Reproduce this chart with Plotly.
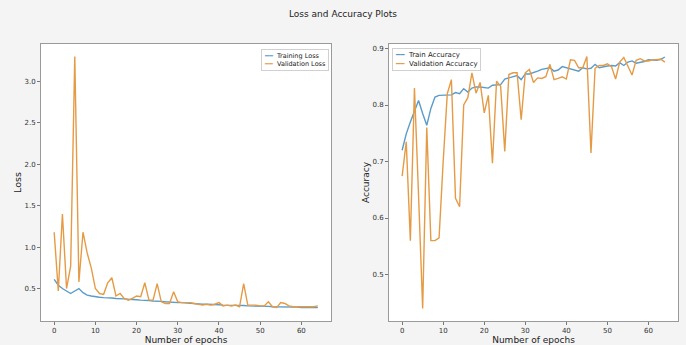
import plotly.graph_objects as go

epochs = list(range(65))

train_loss = [0.61, 0.54, 0.50, 0.47, 0.44, 0.47, 0.50, 0.45, 0.42, 0.41,
              0.40, 0.395, 0.39, 0.39, 0.385, 0.38, 0.38, 0.375, 0.37, 0.37,
              0.365, 0.36, 0.36, 0.355, 0.35, 0.35, 0.345, 0.34, 0.335, 0.335,
              0.33, 0.33, 0.325, 0.32, 0.32, 0.315, 0.31, 0.31, 0.31, 0.305,
              0.305, 0.30, 0.30, 0.30, 0.30, 0.295, 0.295, 0.29, 0.29, 0.29,
              0.285, 0.285, 0.285, 0.28, 0.28, 0.28, 0.28, 0.275, 0.275, 0.275,
              0.27, 0.27, 0.27, 0.27, 0.27]

val_loss = [1.18, 0.47, 1.40, 0.50, 0.77, 3.30, 0.58, 1.18, 0.93, 0.75,
            0.50, 0.44, 0.43, 0.57, 0.63, 0.41, 0.44, 0.38, 0.36, 0.38,
            0.41, 0.40, 0.57, 0.36, 0.36, 0.56, 0.34, 0.32, 0.32, 0.46,
            0.34, 0.33, 0.33, 0.33, 0.32, 0.31, 0.30, 0.31, 0.30, 0.31,
            0.33, 0.29, 0.30, 0.29, 0.30, 0.28, 0.56, 0.30, 0.30, 0.30,
            0.29, 0.29, 0.34, 0.28, 0.27, 0.33, 0.32, 0.29, 0.28, 0.28,
            0.28, 0.28, 0.28, 0.28, 0.29]

train_acc = [0.720, 0.749, 0.770, 0.788, 0.808, 0.785, 0.764, 0.794, 0.814, 0.817,
             0.817, 0.818, 0.818, 0.822, 0.820, 0.829, 0.823, 0.830, 0.832, 0.832,
             0.831, 0.830, 0.835, 0.836, 0.836, 0.846, 0.848, 0.850, 0.852, 0.845,
             0.855, 0.855, 0.857, 0.860, 0.863, 0.865, 0.866, 0.860, 0.862, 0.868,
             0.866, 0.863, 0.862, 0.860, 0.866, 0.864, 0.865, 0.872, 0.866, 0.868,
             0.869, 0.870, 0.869, 0.875, 0.870, 0.876, 0.878, 0.874, 0.875, 0.877,
             0.880, 0.880, 0.879, 0.881, 0.885]

val_acc = [0.674, 0.735, 0.560, 0.830, 0.640, 0.440, 0.760, 0.560, 0.560, 0.565,
           0.700, 0.820, 0.845, 0.635, 0.620, 0.800, 0.813, 0.857, 0.821, 0.840,
           0.786, 0.817, 0.697, 0.842, 0.833, 0.718, 0.854, 0.857, 0.857, 0.774,
           0.857, 0.863, 0.840, 0.848, 0.847, 0.850, 0.872, 0.845, 0.847, 0.850,
           0.846, 0.880, 0.879, 0.866, 0.866, 0.886, 0.715, 0.865, 0.870, 0.870,
           0.873, 0.868, 0.846, 0.876, 0.884, 0.868, 0.853, 0.879, 0.882, 0.878,
           0.878, 0.880, 0.880, 0.881, 0.876]

loss_ticks = [0.5, 1.0, 1.5, 2.0, 2.5, 3.0]
acc_ticks = [0.5, 0.6, 0.7, 0.8, 0.9]
epoch_ticks = [0, 10, 20, 30, 40, 50, 60]

loss_names = ["Training Loss", "Validation Loss"]
acc_names = ["Train Accuracy", "Validation Accuracy"]

BLUE = "#5b9bc8"
ORANGE = "#e59b45"
FONT = "DejaVu Sans"

fig = go.Figure()
fig.add_trace(go.Scatter(x=epochs, y=train_loss, mode="lines", name=loss_names[0],
                         line=dict(color=BLUE, width=1.4), xaxis="x", yaxis="y",
                         showlegend=False))
fig.add_trace(go.Scatter(x=epochs, y=val_loss, mode="lines", name=loss_names[1],
                         line=dict(color=ORANGE, width=1.4), xaxis="x", yaxis="y",
                         showlegend=False))
fig.add_trace(go.Scatter(x=epochs, y=train_acc, mode="lines", name=acc_names[0],
                         line=dict(color=BLUE, width=1.4), xaxis="x2", yaxis="y2",
                         showlegend=False))
fig.add_trace(go.Scatter(x=epochs, y=val_acc, mode="lines", name=acc_names[1],
                         line=dict(color=ORANGE, width=1.4), xaxis="x2", yaxis="y2",
                         showlegend=False))

axis_common = dict(showgrid=False, zeroline=False, showline=True, mirror=True,
                   linecolor="#9a9a9a", linewidth=1, ticks="outside", ticklen=3,
                   tickcolor="#777", tickfont=dict(size=7, color="#333", family=FONT))

W, H = 686, 345
ml, mr, mt, mb = 41, 8, 44, 24
pw = W - ml - mr
ph = H - mt - mb


def legend_text(names):
    return (f"<span style='color:{BLUE}'>━━</span>  {names[0]}<br>"
            f"<span style='color:{ORANGE}'>━━</span>  {names[1]}")


fig.update_layout(
    width=W, height=H,
    margin=dict(l=ml, r=mr, t=mt, b=mb),
    paper_bgcolor="#f4f4f4",
    plot_bgcolor="white",
    font=dict(family=FONT, color="#222"),
    title=dict(text="Loss and Accuracy Plots", x=0.5, xanchor="center",
               y=1 - 14 / H, yanchor="middle", font=dict(size=9, family=FONT)),
    xaxis=dict(domain=[0, (331 - ml) / pw], range=[-3.2, 67.2], tickvals=epoch_ticks,
               title=dict(text="Number of epochs", font=dict(size=9), standoff=0),
               anchor="y", automargin=False, **axis_common),
    yaxis=dict(domain=[0, 1], range=[0.108, 3.452], tickvals=loss_ticks, tickformat=".1f",
               title=dict(text="Loss", font=dict(size=9.5), standoff=1),
               anchor="x", automargin=False, **axis_common),
    xaxis2=dict(domain=[(389 - ml) / pw, (678 - ml) / pw], range=[-3.2, 67.2],
                tickvals=epoch_ticks,
                title=dict(text="Number of epochs", font=dict(size=9), standoff=0),
                anchor="y2", automargin=False, **axis_common),
    yaxis2=dict(domain=[0, 1], range=[0.4177, 0.908], tickvals=acc_ticks, tickformat=".1f",
                title=dict(text="Accuracy", font=dict(size=9), standoff=1),
                anchor="x2", automargin=False, **axis_common),
    annotations=[
        dict(text=legend_text(loss_names), xref="paper", yref="paper",
             x=(329 - ml) / pw, xanchor="right", y=1 - (49 - mt) / ph, yanchor="top",
             showarrow=False, align="left", bgcolor="white", bordercolor="#d0d0d0",
             borderwidth=1, borderpad=2, font=dict(size=6.5, family=FONT, color="#222")),
        dict(text=legend_text(acc_names), xref="paper", yref="paper",
             x=(392 - ml) / pw, xanchor="left", y=1 - (48 - mt) / ph, yanchor="top",
             showarrow=False, align="left", bgcolor="white", bordercolor="#d0d0d0",
             borderwidth=1, borderpad=2, font=dict(size=7, family=FONT, color="#222")),
    ],
)

fig.write_html("out.html", config={"displayModeBar": False},
               post_script="document.body.style.margin='0';")
